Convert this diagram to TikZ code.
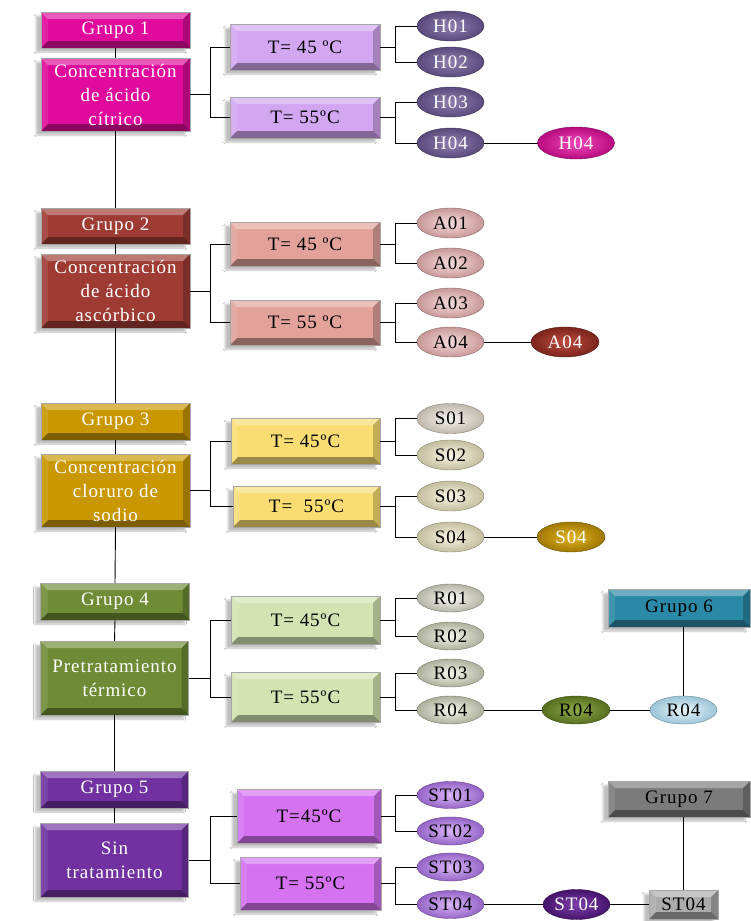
\documentclass[tikz,border=0pt]{standalone}
\usepackage{fontspec}
\setmainfont[LetterSpace=5]{Liberation Serif}
\usetikzlibrary{shapes.geometric,shadows.blur,calc}

% box colours
\definecolor{magA}{HTML}{E00A9C}
\definecolor{lavA}{HTML}{D3A6F2}
\definecolor{redA}{HTML}{9E3B33}
\definecolor{salA}{HTML}{E2A29A}
\definecolor{golA}{HTML}{C99700}
\definecolor{yelA}{HTML}{F9DD72}
\definecolor{oliA}{HTML}{6F8B35}
\definecolor{pgrA}{HTML}{D5E3B2}
\definecolor{purA}{HTML}{7131A1}
\definecolor{orcA}{HTML}{D472F2}
\definecolor{teaA}{HTML}{2A89A6}
\definecolor{gryA}{HTML}{7B7B7B}
\definecolor{gryB}{HTML}{ABABAB}
% ellipse colours (inner / outer)
\definecolor{hIn}{HTML}{9080B2}\definecolor{hOut}{HTML}{5A4A7C}
\definecolor{mIn}{HTML}{F24ABC}\definecolor{mOut}{HTML}{B80A80}
\definecolor{aIn}{HTML}{F6DCDC}\definecolor{aOut}{HTML}{C89898}
\definecolor{rdIn}{HTML}{BC4C40}\definecolor{rdOut}{HTML}{7C241C}
\definecolor{s1In}{HTML}{F8F4F0}\definecolor{s1Out}{HTML}{C0B8AC}
\definecolor{sIn}{HTML}{F8F6E6}\definecolor{sOut}{HTML}{C4BE9E}
\definecolor{gdIn}{HTML}{E4B424}\definecolor{gdOut}{HTML}{A07800}
\definecolor{r1In}{HTML}{FAFAF6}\definecolor{r1Out}{HTML}{B4B4A6}
\definecolor{rIn}{HTML}{F4F6EC}\definecolor{rOut}{HTML}{AEB09C}
\definecolor{gnIn}{HTML}{8EAC4A}\definecolor{gnOut}{HTML}{566E1E}
\definecolor{lbIn}{HTML}{EAF6FC}\definecolor{lbOut}{HTML}{9CC4D8}
\definecolor{stIn}{HTML}{DAB6F8}\definecolor{stOut}{HTML}{9464C6}
\definecolor{dpIn}{HTML}{7E40AC}\definecolor{dpOut}{HTML}{44136A}

\tikzset{
  every node/.style={font=\fontsize{19}{24}\selectfont},
  bevelbox/.style={rectangle, fill=#1, draw=black!35, line width=0.5pt,
    inner sep=0pt, outer sep=0pt, align=center,
    blur shadow={shadow xshift=-5pt, shadow yshift=-4pt,
      shadow opacity=25, shadow blur steps=6},
    path picture={
      \fill[white,opacity=0.32] (path picture bounding box.north west)
        -- (path picture bounding box.north east)
        -- ([xshift=-7pt,yshift=-7pt]path picture bounding box.north east)
        -- ([xshift=7pt,yshift=-7pt]path picture bounding box.north west) -- cycle;
      \fill[black,opacity=0.38] (path picture bounding box.south west)
        -- (path picture bounding box.south east)
        -- ([xshift=-7pt,yshift=7pt]path picture bounding box.south east)
        -- ([xshift=7pt,yshift=7pt]path picture bounding box.south west) -- cycle;
      \fill[white,opacity=0.10] (path picture bounding box.north west)
        -- ([xshift=7pt,yshift=-7pt]path picture bounding box.north west)
        -- ([xshift=7pt,yshift=7pt]path picture bounding box.south west)
        -- (path picture bounding box.south west) -- cycle;
      \fill[black,opacity=0.22] (path picture bounding box.north east)
        -- ([xshift=-7pt,yshift=-7pt]path picture bounding box.north east)
        -- ([xshift=-7pt,yshift=7pt]path picture bounding box.south east)
        -- (path picture bounding box.south east) -- cycle;
    }},
  ell/.style 2 args={ellipse, shade, inner color=#1, outer color=#2,
    draw=#2!70!black, line width=0.4pt, inner sep=0pt, outer sep=0pt,
    minimum width=67pt, minimum height=30pt},
  link/.style={draw=black, line width=0.9pt},
}

\begin{document}
\begin{tikzpicture}[x=1pt,y=-1pt]
\fill[white] (0,0) rectangle (751,921);
\useasboundingbox (0,0) rectangle (751,921);

% ---------- Grupo 1 : ácido cítrico ----------
\node[bevelbox=magA, text=white, minimum width=149pt, minimum height=36pt] (g1) at (115.5,30) {Grupo 1};
\node[bevelbox=magA, text=white, minimum width=149pt, minimum height=73pt] (c1) at (115.5,94.5) {Concentración\\de ácido\\cítrico};
\node[bevelbox=lavA, minimum width=150pt, minimum height=46pt] (t1a) at (305,47) {T= 45 ºC};
\node[bevelbox=lavA, minimum width=150pt, minimum height=41pt] (t1b) at (305,117.5) {T= 55ºC};
\node[ell={hIn}{hOut}, text=white] (h1) at (450.5,26) {H01};
\node[ell={hIn}{hOut}, text=white] (h2) at (450.5,62) {H02};
\node[ell={hIn}{hOut}, text=white] (h3) at (450.5,102) {H03};
\node[ell={hIn}{hOut}, text=white] (h4) at (450.5,143) {H04};
\node[ell={mIn}{mOut}, text=white, minimum width=77pt, minimum height=32pt] (h4b) at (576,143) {H04};

% ---------- Grupo 2 : ácido ascórbico ----------
\node[bevelbox=redA, text=white, minimum width=149pt, minimum height=36pt] (g2) at (115.5,226) {Grupo 2};
\node[bevelbox=redA, text=white, minimum width=149pt, minimum height=74pt] (c2) at (115.5,291) {Concentración\\de ácido\\ascórbico};
\node[bevelbox=salA, minimum width=150pt, minimum height=44pt] (t2a) at (305,244) {T= 45 ºC};
\node[bevelbox=salA, minimum width=150pt, minimum height=45pt] (t2b) at (305,322.5) {T= 55 ºC};
\node[ell={aIn}{aOut}] (a1) at (450.5,223) {A01};
\node[ell={aIn}{aOut}] (a2) at (450.5,263) {A02};
\node[ell={aIn}{aOut}] (a3) at (450.5,303) {A03};
\node[ell={aIn}{aOut}] (a4) at (450.5,342) {A04};
\node[ell={rdIn}{rdOut}, text=white, minimum width=68pt] (a4b) at (565,342) {A04};

% ---------- Grupo 3 : cloruro de sodio ----------
\node[bevelbox=golA, text=white, minimum width=149pt, minimum height=37pt] (g3) at (115.5,421.5) {Grupo 3};
\node[bevelbox=golA, text=white, minimum width=149pt, minimum height=73pt] (c3) at (115.5,490.5) {Concentración\\cloruro de\\sodio};
\node[bevelbox=yelA, minimum width=149pt, minimum height=46pt] (t3a) at (305.5,441) {T= 45ºC};
\node[bevelbox=yelA, minimum width=147pt, minimum height=41pt] (t3b) at (306.5,506.5) {T=\ \ 55ºC};
\node[ell={s1In}{s1Out}] (s1) at (450.5,418.5) {S01};
\node[ell={sIn}{sOut}] (s2) at (450.5,455) {S02};
\node[ell={sIn}{sOut}] (s3) at (450.5,496) {S03};
\node[ell={sIn}{sOut}] (s4) at (450.5,537) {S04};
\node[ell={gdIn}{gdOut}, text=white, minimum width=68pt] (s4b) at (571,537) {S04};

% ---------- Grupo 4 : pretratamiento térmico ----------
\node[bevelbox=oliA, text=white, minimum width=149pt, minimum height=37pt] (g4) at (115,601.5) {Grupo 4};
\node[bevelbox=oliA, text=white, minimum width=148pt, minimum height=74pt] (c4) at (114.5,678) {Pretratamiento\\térmico};
\node[bevelbox=pgrA, minimum width=149pt, minimum height=48pt] (t4a) at (305.5,620) {T= 45ºC};
\node[bevelbox=pgrA, minimum width=149pt, minimum height=50pt] (t4b) at (305.5,697) {T= 55ºC};
\node[ell={r1In}{r1Out}, minimum height=28pt] (r1) at (450.5,598) {R01};
\node[ell={rIn}{rOut}, minimum height=28pt] (r2) at (450.5,636) {R02};
\node[ell={rIn}{rOut}, minimum height=28pt] (r3) at (450.5,673) {R03};
\node[ell={rIn}{rOut}, minimum height=28pt] (r4) at (450.5,710) {R04};
\node[ell={gnIn}{gnOut}, minimum width=68pt, minimum height=28pt] (r4g) at (576,710) {R04};
\node[ell={lbIn}{lbOut}, minimum height=28pt] (r4l) at (683.5,710) {R04};
\node[bevelbox=teaA, minimum width=142pt, minimum height=38pt] (g6) at (679,608) {Grupo 6};

% ---------- Grupo 5 : sin tratamiento ----------
\node[bevelbox=purA, text=white, minimum width=148pt, minimum height=37pt] (g5) at (114.5,789.5) {Grupo 5};
\node[bevelbox=purA, text=white, minimum width=148pt, minimum height=74pt] (c5) at (114.5,860) {Sin\\tratamiento};
\node[bevelbox=orcA, minimum width=144pt, minimum height=54pt] (t5a) at (309,816) {T=45ºC};
\node[bevelbox=orcA, minimum width=141pt, minimum height=53pt] (t5b) at (310.5,883.5) {T= 55ºC};
\node[ell={stIn}{stOut}, minimum height=27pt] (st1) at (450.5,795) {ST01};
\node[ell={stIn}{stOut}, minimum height=28pt] (st2) at (450.5,831) {ST02};
\node[ell={stIn}{stOut}, minimum height=28pt] (st3) at (450.5,867) {ST03};
\node[ell={stIn}{stOut}, minimum height=28pt] (st4) at (450.5,904.5) {ST04};
\node[ell={dpIn}{dpOut}, text=white, minimum height=30pt] (st4p) at (576.5,904.5) {ST04};
\node[bevelbox=gryB, minimum width=69pt, minimum height=29pt] (st4b) at (683.5,904.5) {ST04};
\node[bevelbox=gryA, minimum width=142pt, minimum height=36pt] (g7) at (679,799) {Grupo 7};

% ---------- main column ----------
\draw[link] (g1.south) -- (c1.north);
\draw[link] (c1.south) -- (g2.north);
\draw[link] (g2.south) -- (c2.north);
\draw[link] (c2.south) -- (g3.north);
\draw[link] (g3.south) -- (c3.north);
\draw[link] (c3.south) -- (g4.north);
\draw[link] (g4.south) -- (c4.north);
\draw[link] (c4.south) -- (g5.north);
\draw[link] (g5.south) -- (c5.north);

% ---------- treatment to temperature ----------
\foreach \c/\a/\b/\d in {c1/t1a/t1b/20, c2/t2a/t2b/20, c3/t3a/t3b/20, c4/t4a/t4b/21.5, c5/t5a/t5b/21.5}{
  \draw[link] (\c.east) -- ++(\d,0) |- (\a.west);
  \draw[link] (\c.east) -- ++(\d,0) |- (\b.west);
}

% ---------- temperature to samples ----------
\foreach \t/\p/\q/\d in {t1a/h1/h2/15, t1b/h3/h4/15, t2a/a1/a2/15, t2b/a3/a4/15,
    t3a/s1/s2/15, t3b/s3/s4/15, t4a/r1/r2/15, t4b/r3/r4/15, t5a/st1/st2/14, t5b/st3/st4/14}{
  \draw[link] (\t.east) -- ++(\d,0) |- (\p.west);
  \draw[link] (\t.east) -- ++(\d,0) |- (\q.west);
}

% ---------- follow-up samples ----------
\draw[link] (h4.east) -- (h4b.west);
\draw[link] (a4.east) -- (a4b.west);
\draw[link] (s4.east) -- (s4b.west);
\draw[link] (r4.east) -- (r4g.west);
\draw[link] (r4g.east) -- (r4l.west);
\draw[link] (r4l.north) -- (r4l.north |- g6.south);
\draw[link] (st4.east) -- (st4p.west);
\draw[link] (st4p.east) -- (st4b.west);
\draw[link] (st4b.north) -- (st4b.north |- g7.south);
\end{tikzpicture}
\end{document}
